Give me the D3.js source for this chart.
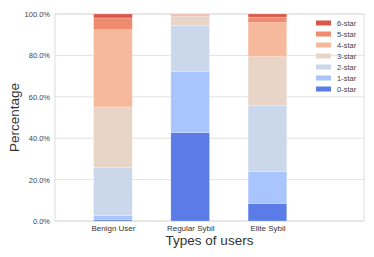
<!DOCTYPE html>
<html>
<head>
<meta charset="utf-8">
<script src="https://cdn.jsdelivr.net/npm/d3@7"></script>
<style>
  body { margin: 0; background: #fff; }
  svg text { font-family: "Liberation Sans", Arial, sans-serif; }
</style>
</head>
<body>
<div id="chart"></div>
<script>
const categories = ['Benign User', 'Regular Sybil', 'Elite Sybil'];
const starLevels = ['0-star', '1-star', '2-star', '3-star', '4-star', '5-star', '6-star'];
// percentage of users per star level, one array per level (order follows categories)
const star0 = [0.6, 42.7, 8.5];
const star1 = [2.0, 29.4, 15.3];
const star2 = [23.2, 22.4, 32.1];
const star3 = [29.3, 4.5, 23.5];
const star4 = [37.3, 0.8, 16.4];
const star5 = [5.7, 0.1, 2.7];
const star6 = [1.9, 0.1, 1.5];
const yTicks = [0, 0.2, 0.4, 0.6, 0.8, 1.0];
const colors = ['#5b7ce6', '#a8c5fd', '#cbd8ec', '#e9d4c8', '#f7b99b', '#ef8b6f', '#d9574a'];

const series = [star0, star1, star2, star3, star4, star5, star6];

const width = 374;
const height = 257;
const margin = { top: 14, right: 10, bottom: 36, left: 55 };
const innerWidth = width - margin.left - margin.right;
const innerHeight = height - margin.top - margin.bottom;

const table = categories.map((name, i) => {
  const row = { name };
  starLevels.forEach((level, j) => { row[level] = series[j][i] / 100; });
  return row;
});
const stacked = d3.stack().keys(starLevels)(table);

const svg = d3.select('#chart')
  .append('svg')
  .attr('width', width)
  .attr('height', height);

const g = svg.append('g')
  .attr('transform', `translate(${margin.left}, ${margin.top})`);

const scaleX = d3.scaleLinear()
  .domain([-0.75, 3.25])
  .range([0, innerWidth]);
const barWidth = scaleX(0.5) - scaleX(0);

const scaleY = d3.scaleLinear()
  .domain([0, 1])
  .range([innerHeight, 0]);

// grid
g.append('g')
  .selectAll('line')
  .data(yTicks)
  .join('line')
  .attr('x1', 0)
  .attr('x2', innerWidth)
  .attr('y1', d => scaleY(d))
  .attr('y2', d => scaleY(d))
  .attr('stroke', '#e3e3e3')
  .attr('stroke-width', 1);

// frame
g.append('rect')
  .attr('width', innerWidth)
  .attr('height', innerHeight)
  .attr('fill', 'none')
  .attr('stroke', '#dedede')
  .attr('stroke-width', 1);

// bars
g.append('g')
  .selectAll('g')
  .data(stacked)
  .join('g')
  .attr('fill', (d, i) => colors[i])
  .selectAll('rect')
  .data(d => d)
  .join('rect')
  .attr('x', (d, i) => scaleX(i) - barWidth / 2)
  .attr('width', barWidth)
  .attr('y', d => scaleY(d[1]))
  .attr('height', d => scaleY(d[0]) - scaleY(d[1]))
  .attr('stroke', '#fff')
  .attr('stroke-opacity', 0.35)
  .attr('stroke-width', 0.6);

// y axis
const yAxis = g.append('g')
  .call(d3.axisLeft(scaleY).tickValues(yTicks).tickFormat(d3.format('.1%')).tickSize(0).tickPadding(5));
yAxis.select('.domain').remove();
yAxis.selectAll('text')
  .attr('font-size', 7.5)
  .attr('fill', '#444');

// x axis
const xAxis = g.append('g')
  .attr('transform', `translate(0, ${innerHeight})`)
  .call(d3.axisBottom(scaleX).tickValues([0, 1, 2]).tickFormat(i => categories[i]).tickSize(0).tickPadding(4));
xAxis.select('.domain').remove();
xAxis.selectAll('text')
  .attr('font-size', 8)
  .attr('fill', '#333');

// axis titles
svg.append('text')
  .attr('transform', `translate(19, ${margin.top + innerHeight / 2}) rotate(-90)`)
  .attr('text-anchor', 'middle')
  .attr('font-size', 13.5)
  .attr('fill', '#333')
  .text('Percentage');

svg.append('text')
  .attr('x', margin.left + innerWidth / 2)
  .attr('y', 245)
  .attr('text-anchor', 'middle')
  .attr('font-size', 13.5)
  .attr('fill', '#333')
  .text('Types of users');

// legend
const legend = g.append('g')
  .attr('transform', `translate(${innerWidth - 48}, 9)`);
const legendRows = legend.selectAll('g')
  .data(starLevels.slice().reverse())
  .join('g')
  .attr('transform', (d, i) => `translate(0, ${i * 11})`);
legendRows.append('rect')
  .attr('x', 0)
  .attr('y', -2.5)
  .attr('width', 15)
  .attr('height', 5)
  .attr('fill', d => colors[starLevels.indexOf(d)]);
legendRows.append('text')
  .attr('x', 21)
  .attr('y', 0)
  .attr('dy', '0.35em')
  .attr('font-size', 7.5)
  .attr('fill', '#444')
  .text(d => d);
</script>
</body>
</html>
